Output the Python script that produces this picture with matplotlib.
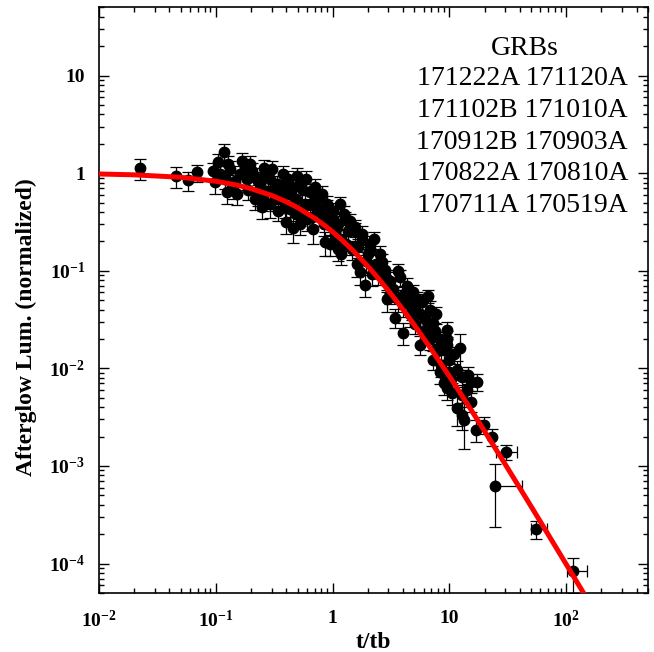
import matplotlib
matplotlib.use('Agg')
import matplotlib.pyplot as plt
import numpy as np

''' Fontes no estilo Times, negrito nos eixos '''
plt.rcParams['font.family'] = 'Liberation Serif'
plt.rcParams['mathtext.fontset'] = 'custom'
plt.rcParams['mathtext.rm'] = 'Liberation Serif:bold'
plt.rcParams['mathtext.it'] = 'Liberation Serif:bold'
plt.rcParams['mathtext.bf'] = 'Liberation Serif:bold'

''' Dados lidos do grafico '''
t_obs = [0.0224, 0.0455, 0.0576, 0.0688, 0.0942, 0.117, 0.104, 0.098, 0.124, 0.151,
         0.188, 0.195, 0.257, 0.252, 0.396, 0.455, 0.492, 0.636, 0.675, 0.855,
         0.132, 0.160, 0.145, 0.215, 0.177, 0.238, 0.290, 0.319, 0.352, 0.389,
         0.429, 0.522, 0.577, 0.745, 0.774, 0.290, 0.229, 0.522, 0.339, 0.702,
         0.889, 0.119, 0.429, 0.600, 0.374,
         0.889, 1.10, 0.942, 1.19, 1.04, 1.27, 0.98, 1.15,
         1.54, 1.77, 1.70, 1.88, 1.45, 1.99, 1.60, 2.07,
         2.67, 2.90, 2.90, 3.60, 3.26, 4.29, 5.22, 6.49, 3.97, 4.55, 3.39, 3.07, 2.42, 4.83,
         3.97, 5.54, 7.16, 9.43, 9.43, 6.11, 7.74, 6.75, 5.02,
         12.2, 7.16, 8.22, 9.06, 11.7, 15.4, 17.3, 10.6, 11.7, 15.4, 12.9, 17.0, 19.9,
         23.3, 7.89, 10.0, 12.7, 13.4,
         0.108, 0.127, 0.140, 0.167, 0.184, 0.203, 0.229, 0.262, 0.278, 0.301,
         0.332, 0.367, 0.412, 0.447, 0.483, 0.543, 0.588, 0.636, 0.688, 0.745,
         0.805, 0.838, 0.906, 0.483, 0.389, 0.319, 0.247, 0.522, 0.662, 0.215,
         1.0, 1.06, 1.15, 1.24, 1.34, 1.29, 1.10, 1.40,
         1.54, 1.64, 1.80, 1.92, 2.07, 2.24, 2.33, 2.52, 2.15,
         2.78, 3.07, 3.74, 4.05, 4.38, 4.73, 5.12, 5.54, 5.77, 6.24, 6.75, 3.60,
         7.45, 8.22, 8.89, 9.61, 8.54, 10.0, 11.0, 7.59, 9.43, 10.4, 12.7, 14.0, 14.3]
lum_obs = [1.125, 0.93, 0.848, 1.02, 1.05, 1.64, 1.30, 0.81, 0.64, 0.61,
           0.67, 1.24, 1.13, 0.54, 0.314, 0.272, 0.93, 0.64, 0.266, 0.196,
           1.10, 0.98, 0.83, 0.91, 1.15, 0.77, 0.87, 0.685, 0.54, 0.77,
           0.61, 0.77, 0.48, 0.54, 0.38, 0.48, 0.61, 0.38, 0.41, 0.72,
           0.48, 0.87, 0.43, 0.337, 0.98,
           0.43, 0.30, 0.187, 0.147, 0.237, 0.337, 0.337, 0.21,
           0.254, 0.21, 0.096, 0.072, 0.166, 0.147, 0.116, 0.187,
           0.122, 0.0816, 0.0508, 0.0986, 0.0644, 0.0692, 0.0508, 0.0546, 0.0452, 0.0357,
           0.0332, 0.0573, 0.0918, 0.060,
           0.0233, 0.0175, 0.0295, 0.025, 0.0198, 0.025, 0.0357, 0.0198, 0.0282,
           0.016, 0.0123, 0.00927, 0.00714, 0.00972, 0.00732, 0.00732, 0.00565, 0.00396,
           0.00456, 0.00336, 0.00235, 0.00265, 0.0020, 0.0149, 0.0123, 0.00538, 0.00298,
           0.98, 1.24, 0.72, 1.33, 0.87, 1.05, 0.83, 0.95, 0.65, 1.10,
           0.77, 0.61, 0.87, 0.72, 0.54, 0.685, 0.87, 0.48, 0.61, 0.43,
           0.61, 0.30, 0.38, 0.38, 0.45, 0.54, 0.45, 0.30, 0.353, 0.54,
           0.41, 0.266, 0.48, 0.38, 0.254, 0.187, 0.166, 0.32,
           0.279, 0.174, 0.237, 0.125, 0.166, 0.21, 0.116, 0.147, 0.092,
           0.103, 0.078, 0.0855, 0.0573, 0.0508, 0.0401, 0.0452, 0.0357, 0.0484, 0.0316,
           0.0401, 0.0508,
           0.0239, 0.0198, 0.0157, 0.0175, 0.0109, 0.00927, 0.0139, 0.0157, 0.00632,
           0.0077, 0.0081, 0.006, 0.0086]
err_frac = [0.24, 0.25, 0.22, 0.2, 0.2, 0.2, 0.22, 0.25, 0.25, 0.22,
            0.2, 0.2, 0.22, 0.25, 0.25, 0.3, 0.2, 0.22, 0.3, 0.28,
            0.2, 0.22, 0.22, 0.25, 0.2, 0.25, 0.22, 0.25, 0.28, 0.22,
            0.25, 0.22, 0.25, 0.22, 0.25, 0.28, 0.25, 0.25, 0.22, 0.2,
            0.22, 0.2, 0.25, 0.25, 0.2,
            0.22, 0.2, 0.25, 0.22, 0.2, 0.2, 0.22, 0.25,
            0.22, 0.2, 0.25, 0.25, 0.22, 0.2, 0.25, 0.2,
            0.22, 0.25, 0.25, 0.2, 0.25, 0.22, 0.2, 0.15, 0.25, 0.25, 0.22, 0.2, 0.22, 0.2,
            0.25, 0.22, 0.2, 0.2, 0.22, 0.2, 0.2, 0.22, 0.2,
            0.4, 0.22, 0.25, 0.25, 0.22, 0.2, 0.2, 0.25, 0.35, 0.22, 0.3, 0.25, 0.2,
            0.2, 0.2, 0.22, 0.25, 0.5,
            0.2, 0.22, 0.25, 0.2, 0.22, 0.2, 0.25, 0.22, 0.25, 0.2,
            0.22, 0.25, 0.2, 0.22, 0.25, 0.22, 0.2, 0.25, 0.22, 0.25,
            0.22, 0.25, 0.22, 0.25, 0.22, 0.25, 0.25, 0.22, 0.25, 0.22,
            0.22, 0.25, 0.2, 0.22, 0.25, 0.22, 0.25, 0.2,
            0.2, 0.22, 0.22, 0.25, 0.22, 0.2, 0.25, 0.22, 0.25,
            0.22, 0.25, 0.2, 0.22, 0.25, 0.22, 0.2, 0.25, 0.2, 0.22, 0.22, 0.25,
            0.22, 0.2, 0.22, 0.2, 0.25, 0.22, 0.2, 0.22, 0.25, 0.22, 0.2, 0.25, 0.2]

''' Pontos tardios com barras de erro em t '''
t_late = [30.7, 24.7, 55.4, 115.0]
t_late_lo = [5.7, 0.0, 5.2, 13.0]
t_late_hi = [7.3, 17.3, 13.4, 36.0]
lum_late = [0.0014, 0.000627, 0.000227, 0.000084]
lum_late_lo = [0.00025, 0.000389, 0.000048, 0.000034]
lum_late_hi = [0.00025, 0.000423, 0.000047, 0.000030]

''' Curva do modelo (vermelha) '''
t_model = [0.01, 0.02, 0.05, 0.1, 0.15, 0.2, 0.3, 0.4, 0.5, 0.7, 0.85, 1.0, 1.2, 1.5,
           2.0, 2.5, 3.0, 4.0, 5.0, 7.0, 10.0, 15.0, 20.0, 30.0, 50.0, 70.0, 100.0, 150.0]
lum_model = [0.9803, 0.9612, 0.9070, 0.8264, 0.7561, 0.6944, 0.5917, 0.5102, 0.4444,
             0.3460, 0.2922, 0.25, 0.2066, 0.16, 0.1111, 0.0816, 0.0625, 0.04, 0.02778,
             0.015625, 0.008264, 0.003906, 0.002268, 0.0010406, 0.0003845, 0.0001984,
             0.00009803, 0.00004386]

grb_names = ['171222A', '171120A', '171102B', '171010A', '170912B',
             '170903A', '170822A', '170810A', '170711A', '170519A']

x_ticks = [0.01, 0.1, 1, 10, 100]
x_labels = ['10$^{-2}$', '10$^{-1}$', '1', '10', '10$^{2}$']
y_ticks = [1e-4, 1e-3, 1e-2, 1e-1, 1, 10]
y_labels = ['10$^{-4}$', '10$^{-3}$', '10$^{-2}$', '10$^{-1}$', '1', '10']

fig = plt.figure(figsize=(6.54, 6.52), dpi=100)
ax = fig.add_axes([0.1514, 0.0905, 0.8394, 0.8983])

t_obs = np.array(t_obs)
lum_obs = np.array(lum_obs)
ax.errorbar(t_obs, lum_obs, yerr=lum_obs * np.array(err_frac), fmt='o', color='black',
            ms=7.5, capsize=4, elinewidth=0.9, capthick=0.9, zorder=2)
ax.errorbar(t_late, lum_late, xerr=[t_late_lo, t_late_hi], yerr=[lum_late_lo, lum_late_hi],
            fmt='o', color='black', ms=7.5, capsize=4, elinewidth=0.9, capthick=0.9, zorder=2)
ax.plot(t_model, lum_model, color='red', lw=3.6, zorder=3)

ax.set_xscale('log')
ax.set_yscale('log')
ax.set_xlim(0.01, 500)
ax.set_ylim(5e-5, 50)

ax.set_xticks(x_ticks)
ax.set_xticklabels(x_labels, fontsize=14, fontweight='bold')
ax.set_yticks(y_ticks)
ax.set_yticklabels(y_labels, fontsize=14, fontweight='bold')
ax.tick_params(which='both', direction='in', top=True, right=True, width=1.0)
ax.tick_params(which='major', length=7.5)
ax.tick_params(axis='x', which='major', pad=12)
ax.tick_params(axis='y', which='major', pad=10)
ax.tick_params(which='minor', length=3.8)
for s in ax.spines.values():
    s.set_linewidth(1.2)

ax.set_xlabel('t/tb', fontsize=17, fontweight='bold', labelpad=1)
ax.text(-0.132, 0.454, 'Afterglow Lum. (normalized)', rotation=90, ha='center', va='center',
        fontsize=17, fontweight='bold', transform=ax.transAxes)

''' Lista de GRBs '''
ax.text(0.776, 0.9186, 'GRBs', fontsize=20, ha='center', va='baseline', transform=ax.transAxes)
for i in range(5):
    linha = grb_names[2 * i] + ' ' + grb_names[2 * i + 1]
    ax.text(0.771, 0.8673 - i * 0.0542, linha, fontsize=20, ha='center', va='baseline',
            transform=ax.transAxes)

fig.savefig('out.png', dpi=100)
